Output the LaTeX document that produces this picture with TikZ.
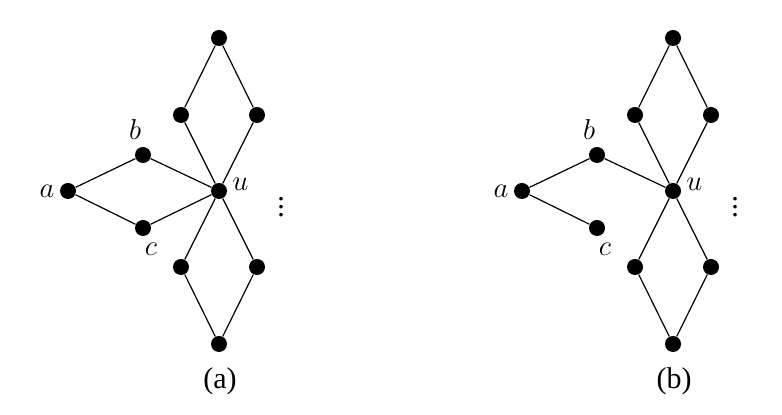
\documentclass[tikz,border=0pt]{standalone}
\usepackage{fontspec}
\setmainfont{Liberation Serif}
\usetikzlibrary{positioning}

\begin{document}
\begin{tikzpicture}[
  x=0.5pt, y=-0.5pt,
  every node/.style={font=\fontsize{15}{18}\selectfont},
  vtx/.style={circle, fill=black, minimum size=8pt, inner sep=0pt},
  edge/.style={black, line width=0.6pt}
]
\useasboundingbox (0,0) rectangle (782,415);
% two panels, (b) drops the edge c--u
\foreach \p/\dx/\cap in {1/0/a,2/454/b}{
  \begin{scope}[xshift=\dx*0.5pt]
    \node[vtx, label={[label distance=-1pt]left:$a$}] (a\p) at (68,191) {};
    \node[vtx, label={[label distance=0pt, xshift=-4pt]above:$b$}] (b\p) at (143,155) {};
    \node[vtx, label={[label distance=0pt, xshift=4pt]below:$c$}] (c\p) at (143,228) {};
    \node[vtx, label={[label distance=-1pt, yshift=3.5pt]right:$u$}] (u\p) at (219,191) {};
    \node[vtx] (t\p) at (219,38) {};
    \node[vtx] (tl\p) at (181,115) {};
    \node[vtx] (tr\p) at (257,115) {};
    \node[vtx] (bl\p) at (181,267) {};
    \node[vtx] (br\p) at (257,267) {};
    \node[vtx] (bt\p) at (219,344) {};
    \node[inner sep=0pt] (dots\p) at (281,201) {$\vdots$};
    \node (cap\p) at (220,381) {(\cap)};
    \draw[edge] (a\p) -- (b\p) -- (u\p);
    \draw[edge] (a\p) -- (c\p);
    \ifnum\p=1 \draw[edge] (c\p) -- (u\p); \fi
    \draw[edge] (u\p) -- (tl\p) -- (t\p) -- (tr\p) -- (u\p);
    \draw[edge] (u\p) -- (bl\p) -- (bt\p) -- (br\p) -- (u\p);
  \end{scope}
}
\end{tikzpicture}
\end{document}
